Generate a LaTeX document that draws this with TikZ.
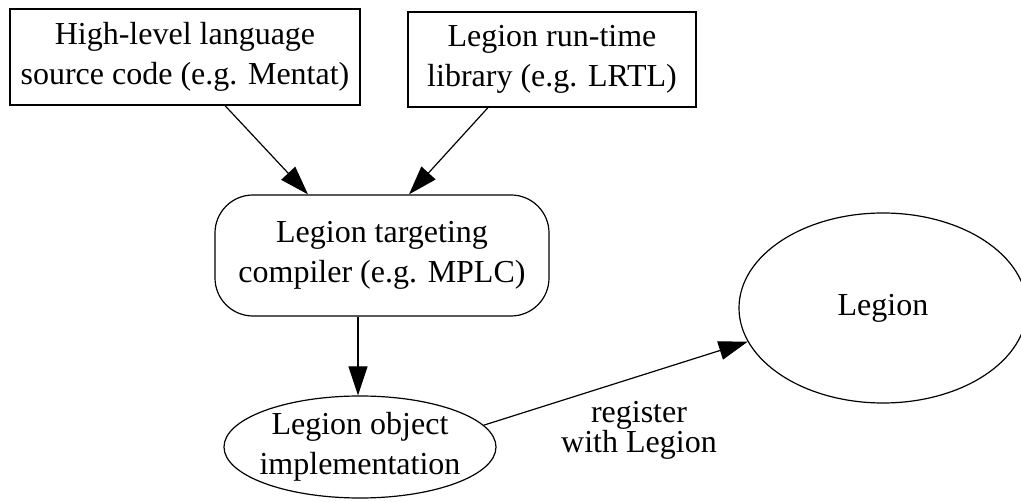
\documentclass[tikz,border=0pt]{standalone}
\usepackage{fontspec}
\setmainfont{Liberation Serif}
\usetikzlibrary{shapes.geometric,arrows.meta}
\tikzset{
  every node/.style={font=\fontsize{32}{40}\selectfont, align=center, inner sep=0pt},
  boxnode/.style={draw, line width=1.2pt, rectangle},
  roundnode/.style={draw, line width=1.2pt, rectangle, rounded corners=38pt},
  ellnode/.style={draw, line width=1.2pt, ellipse, inner xsep=-10pt, inner ysep=-5pt},
  conn/.style={line width=1.2pt, -{Triangle[length=29pt, width=19pt]}},
  lbl/.style={font=\fontsize{32}{30}\selectfont}
}
\begin{document}
\begin{tikzpicture}[x=1pt, y=-1pt]
\useasboundingbox (0,0) rectangle (1021,502);
\node[boxnode, minimum width=350pt, minimum height=96pt] (src) at (185,57)
  {High-level language\\source code (e.g. Mentat)};
\node[boxnode, minimum width=288pt, minimum height=95pt] (lib) at (552,59.5)
  {Legion run-time\\library (e.g. LRTL)};
\node[roundnode, minimum width=334pt, minimum height=121pt] (comp) at (382,255.5)
  {Legion targeting\\compiler (e.g. MPLC)};
\node[ellnode, minimum width=272pt, minimum height=102pt] (impl) at (360,447)
  {Legion object\\implementation};
\node[ellnode, minimum width=288pt, minimum height=190pt] (leg) at (883,308)
  {Legion};
\node[lbl] (reg) at (639,430) {register\\with Legion};
\draw[conn] ([xshift=40pt]src.south) -- ([xshift=-74pt]comp.north);
\draw[conn] ([xshift=-64pt]lib.south) -- ([xshift=27pt]comp.north);
\draw[conn] ([xshift=-24pt]comp.south) -- ([xshift=-2pt]impl.north);
\draw[conn] (impl.10) -- (leg.194);
\end{tikzpicture}
\end{document}
